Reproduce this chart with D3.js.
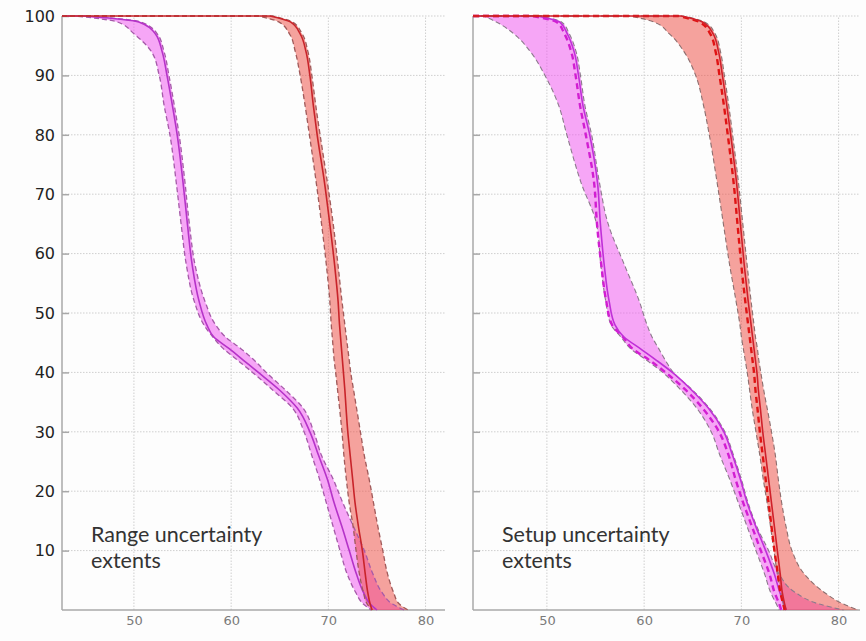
<!DOCTYPE html>
<html>
<head>
<meta charset="utf-8">
<script src="https://cdn.jsdelivr.net/npm/d3@7"></script>
<style>
  body { margin: 0; background: #fdfdfd; }
  svg { display: block; }
</style>
</head>
<body>
<svg id="chart" width="866" height="641"></svg>
<script>
// Dose-volume histograms: volume (%) against dose (Gy), nominal plan with uncertainty bands.
const volumes = [100, 99, 97, 94, 90, 85, 80, 72, 65, 58, 52, 48, 46, 44, 42, 40, 37, 34, 30, 26, 22, 18, 14, 10, 6, 3, 1, 0];
const xTicks = [50, 60, 70, 80];
const yTicks = [10, 20, 30, 40, 50, 60, 70, 80, 90, 100];
const panelLabels = [["Range uncertainty", "extents"], ["Setup uncertainty", "extents"]];

// Range uncertainty panel: target (magenta) and organ (red), dose at each volume level
const rangeTargetNominal = [45.0, 50.5, 52.2, 52.9, 53.4, 53.95, 54.45, 55.05, 55.5, 56.0, 56.7, 57.5, 58.2, 59.8, 61.3, 62.8, 65.0, 66.8, 68.1, 69.0, 69.9, 70.6, 71.4, 72.15, 72.9, 73.6, 74.3, 75.0];
const rangeTargetLow     = [44.0, 48.3, 50.0, 51.8, 52.6, 53.1, 53.7, 54.35, 54.85, 55.4, 56.2, 57.2, 58.1, 59.2, 60.7, 62.2, 64.3, 66.3, 67.5, 68.3, 69.1, 69.8, 70.5, 71.2, 71.95, 72.8, 73.6, 74.4];
const rangeTargetHigh    = [45.2, 50.7, 52.4, 53.1, 53.6, 54.15, 54.65, 55.25, 55.7, 56.3, 57.3, 58.4, 59.4, 61.0, 62.4, 63.6, 65.6, 67.4, 68.5, 69.3, 70.5, 71.5, 72.6, 73.7, 74.6, 75.5, 76.6, 77.8];
const rangeOrganNominal  = [64.0, 66.1, 67.1, 67.7, 68.1, 68.45, 68.85, 69.6, 70.15, 70.65, 71.0, 71.15, 71.25, 71.35, 71.45, 71.55, 71.7, 71.82, 72.0, 72.25, 72.5, 72.75, 73.1, 73.5, 73.8, 74.05, 74.3, 74.5];
const rangeOrganLow      = [62.8, 64.9, 66.0, 66.6, 67.1, 67.6, 68.05, 68.75, 69.3, 69.8, 70.15, 70.3, 70.4, 70.5, 70.6, 70.75, 70.95, 71.15, 71.4, 71.6, 71.85, 72.15, 72.55, 72.85, 73.2, 73.6, 74.0, 74.5];
const rangeOrganHigh     = [64.3, 66.3, 67.3, 67.9, 68.3, 68.7, 69.15, 69.9, 70.5, 71.0, 71.4, 71.7, 71.85, 72.0, 72.15, 72.3, 72.6, 72.9, 73.3, 73.7, 74.2, 74.65, 75.1, 75.6, 76.1, 76.7, 77.3, 78.2];

// Setup uncertainty panel: nominal, one highlighted scenario and the band extents
const setupTargetNominal  = [49.0, 51.3, 52.1, 52.8, 53.25, 53.7, 54.4, 55.2, 55.5, 55.9, 56.4, 57.0, 57.9, 59.6, 61.3, 62.9, 64.9, 66.6, 68.2, 69.1, 69.9, 70.6, 71.5, 72.5, 73.4, 73.95, 74.4, 74.6];
const setupTargetScenario = [48.5, 51.0, 51.8, 52.5, 52.95, 53.4, 54.0, 54.85, 55.15, 55.6, 56.1, 56.7, 57.8, 58.8, 60.6, 62.2, 64.3, 66.0, 67.7, 68.7, 69.4, 70.2, 71.1, 72.0, 72.9, 73.4, 73.9, 74.1];
const setupTargetLow      = [43.5, 44.8, 46.6, 48.3, 49.8, 51.2, 52.05, 53.5, 55.1, 55.55, 56.05, 56.6, 57.6, 58.6, 60.3, 61.9, 63.8, 65.4, 66.9, 67.8, 68.8, 69.7, 70.6, 71.5, 72.4, 73.0, 73.6, 73.9];
const setupTargetHigh     = [49.2, 51.5, 52.3, 53.0, 53.45, 53.9, 54.6, 55.4, 56.3, 58.0, 59.5, 60.3, 60.8, 61.5, 62.2, 63.0, 65.0, 66.7, 68.3, 69.2, 70.0, 70.7, 71.6, 72.8, 73.9, 75.5, 78.0, 80.5];
const setupOrganNominal   = [63.8, 66.0, 67.1, 67.65, 68.05, 68.5, 68.9, 69.5, 69.9, 70.3, 70.7, 71.0, 71.15, 71.3, 71.45, 71.6, 71.75, 71.95, 72.2, 72.5, 72.8, 73.1, 73.4, 73.7, 74.0, 74.2, 74.45, 74.6];
const setupOrganScenario  = [63.5, 65.7, 66.8, 67.35, 67.75, 68.2, 68.6, 69.2, 69.6, 70.0, 70.4, 70.7, 70.85, 71.0, 71.15, 71.3, 71.45, 71.65, 71.9, 72.2, 72.5, 72.8, 73.1, 73.4, 73.75, 74.0, 74.3, 74.45];
const setupOrganLow       = [58.5, 61.0, 62.6, 64.1, 65.3, 66.1, 66.7, 67.5, 68.15, 68.8, 69.45, 69.85, 70.0, 70.2, 70.4, 70.6, 70.85, 71.1, 71.5, 71.9, 72.25, 72.65, 73.0, 73.35, 73.7, 74.05, 74.3, 74.4];
const setupOrganHigh      = [64.0, 66.2, 67.3, 67.85, 68.25, 68.7, 69.1, 69.7, 70.15, 70.6, 71.0, 71.3, 71.45, 71.65, 71.8, 72.0, 72.3, 72.65, 73.1, 73.5, 73.8, 74.15, 74.6, 75.2, 76.5, 78.5, 80.5, 82.0];

const svg = d3.select("#chart");
const yScale = d3.scaleLinear().domain([0, 100]).range([610, 16]);

const panels = [
  {
    x: d3.scaleLinear().domain([42.6, 82]).range([62, 445]),
    labels: true,
    text: panelLabels[0],
    textX: 91,
    structures: [
      { nominal: rangeTargetNominal, low: rangeTargetLow, high: rangeTargetHigh,
        fill: "rgb(240,80,240)", line: "#b533c8", edge: "#a55aa8" },
      { nominal: rangeOrganNominal, low: rangeOrganLow, high: rangeOrganHigh,
        fill: "rgb(238,72,62)", line: "#c8242a", edge: "#a05a5a" }
    ]
  },
  {
    x: d3.scaleLinear().domain([42.4, 82.2]).range([473, 860]),
    labels: false,
    text: panelLabels[1],
    textX: 502,
    structures: [
      { nominal: setupTargetNominal, scenario: setupTargetScenario, low: setupTargetLow, high: setupTargetHigh,
        fill: "rgb(240,80,240)", line: "#c030d8", edge: "#8c7a8c", scen: "#d21ed2" },
      { nominal: setupOrganNominal, scenario: setupOrganScenario, low: setupOrganLow, high: setupOrganHigh,
        fill: "rgb(238,72,62)", line: "#d0202a", edge: "#8c6e6e", scen: "#e01414" }
    ]
  }
];

panels.forEach(p => {
  const x = p.x;
  const [x0, x1] = x.range();
  const g = svg.append("g");

  // dotted grid
  g.selectAll(".gx").data(xTicks).join("line")
    .attr("x1", d => x(d)).attr("x2", d => x(d))
    .attr("y1", yScale(0)).attr("y2", yScale(100))
    .attr("stroke", "#cfcfcf").attr("stroke-width", 1).attr("stroke-dasharray", "1.5,1.5");
  g.selectAll(".gy").data(yTicks).join("line")
    .attr("x1", x0).attr("x2", x1)
    .attr("y1", d => yScale(d)).attr("y2", d => yScale(d))
    .attr("stroke", "#cfcfcf").attr("stroke-width", 1).attr("stroke-dasharray", "1.5,1.5");

  // axes
  const yAxis = d3.axisRight(yScale).tickValues(yTicks).tickSize(7).tickFormat("");
  const ya = g.append("g").attr("transform", `translate(${x0},0)`).call(yAxis);
  ya.select(".domain").remove();
  ya.selectAll(".tick line").attr("stroke", "#a8a8a8").attr("stroke-width", 1.5);
  g.append("line").attr("x1", x0).attr("x2", x0).attr("y1", yScale(0)).attr("y2", yScale(100))
    .attr("stroke", "#a8a8a8").attr("stroke-width", 1.5);
  g.append("line").attr("x1", x0).attr("x2", x1).attr("y1", yScale(0)).attr("y2", yScale(0))
    .attr("stroke", "#a8a8a8").attr("stroke-width", 1.5);

  const xAxis = d3.axisBottom(x).tickValues(xTicks).tickSize(0).tickPadding(6);
  const xa = g.append("g").attr("transform", `translate(0,${yScale(0)})`).call(xAxis);
  xa.select(".domain").remove();
  xa.selectAll("text").attr("fill", "#7a7a7a").style("font-family", "DejaVu Sans, Verdana, sans-serif").style("font-size", "13px");

  if (p.labels) {
    g.selectAll(".yl").data(yTicks).join("text")
      .attr("x", x0 - 7).attr("y", d => yScale(d)).attr("dy", "0.36em")
      .attr("text-anchor", "end").attr("fill", "#222")
      .style("font-family", "DejaVu Sans, Verdana, sans-serif").style("font-size", "16px")
      .text(d => d);
  }

  const pts = arr => arr.map((d, i) => ({ d, v: volumes[i] }));
  const lineGen = d3.line().x(e => x(e.d)).y(e => yScale(e.v)).curve(d3.curveMonotoneY);
  // each curve runs along the 100 % level from the axis start before falling off
  const curvePath = arr => `M${x0},${yScale(100)}` + lineGen(pts(arr)).replace(/^M/, "L");
  const band = d3.area()
    .y((e, i) => yScale(volumes[i]))
    .x0(e => x(e[0])).x1(e => x(e[1]))
    .curve(d3.curveMonotoneY);

  // uncertainty bands
  p.structures.forEach(s => {
    g.append("path")
      .attr("d", band(s.low.map((v, i) => [v, s.high[i]])))
      .attr("fill", s.fill).attr("fill-opacity", 0.5).attr("stroke", "none");
  });

  // curves
  p.structures.forEach(s => {
    [s.low, s.high].forEach(arr => {
      g.append("path").attr("d", curvePath(arr))
        .attr("fill", "none").attr("stroke", s.edge)
        .attr("stroke-width", p.labels ? 1.3 : 1.1)
        .attr("stroke-dasharray", "5,3");
    });
    if (s.scenario) {
      g.append("path").attr("d", curvePath(s.scenario))
        .attr("fill", "none").attr("stroke", s.scen)
        .attr("stroke-width", 2.4).attr("stroke-dasharray", "6,4");
    }
    g.append("path").attr("d", curvePath(s.nominal))
      .attr("fill", "none").attr("stroke", s.line).attr("stroke-width", 1.6);
  });

  // panel annotation, two separate lines
  p.text.forEach((line, i) => {
    g.append("text").attr("fill", "#333")
      .attr("x", p.textX).attr("y", 542 + i * 26)
      .style("font-family", "Lato, sans-serif").style("font-size", "21.5px")
      .text(line);
  });
});
</script>
</body>
</html>
